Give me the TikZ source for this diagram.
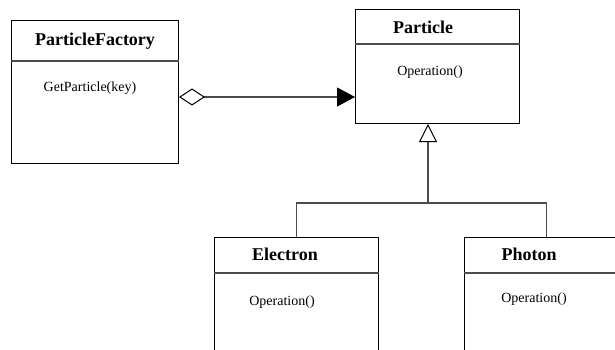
\documentclass[tikz,border=0pt]{standalone}
\usepackage{fontspec}
\setmainfont{Liberation Serif}
\usetikzlibrary{arrows.meta}

\begin{document}
\begin{tikzpicture}[x=1pt, y=-1pt,
classbox/.style={rectangle, draw=black, line width=1pt, inner sep=0pt, anchor=north west},
classtitle/.style={font=\fontsize{18}{20}\selectfont\bfseries, inner sep=0pt},
classop/.style={font=\fontsize{14}{16}\selectfont, inner sep=0pt},
divider/.style={draw=black!70, line width=1.1pt},
aggregation/.style={draw=black!70, line width=1.1pt, {Diamond[open, length=26pt, width=17pt, line width=1pt, black, fill=white]}-{Triangle[length=18pt, width=19pt, black]}},
generalization/.style={draw=black!70, line width=1.1pt, -{Triangle[open, length=18pt, width=18pt, line width=1pt, black, fill=white]}},
branch/.style={draw=black!70, line width=1.1pt}]

\path[use as bounding box, clip] (0,0) rectangle (615,350);

% class boxes
\node[classbox, minimum width=167pt, minimum height=143pt](factory) at (11, 20){};
\node[classbox, minimum width=164pt, minimum height=114pt](particle) at (355, 9){};
\node[classbox, minimum width=164pt, minimum height=130pt](electron) at (214, 237){};
\node[classbox, minimum width=164pt, minimum height=130pt](photon) at (464, 237){};

% compartments
\draw[divider] (factory.west |- 0, 61) -- (factory.east |- 0, 61);
\draw[divider] (particle.west |- 0, 44) -- (particle.east |- 0, 44);
\draw[divider] (electron.west |- 0, 273) -- (electron.east |- 0, 273);
\draw[divider] (photon.west |- 0, 273) -- (photon.east |- 0, 273);

% names and operations
\node[classtitle](factoryName) at (95, 41){ParticleFactory};
\node[classop](factoryOp) at (90, 88){GetParticle(key)};
\node[classtitle](particleName) at (423, 27){Particle};
\node[classop](particleOp) at (430, 72){Operation()};
\node[classtitle](electronName) at (285, 254){Electron};
\node[classop](electronOp) at (282, 302){Operation()};
\node[classtitle](photonName) at (529, 254){Photon};
\node[classop](photonOp) at (534, 299){Operation()};

% factory holds particles
\coordinate (aggLevel) at (0, 97);
\draw[aggregation] (factory.east |- aggLevel) -- (particle.west |- aggLevel);

% subclasses
\coordinate (fork) at (428, 203);
\draw[branch] (electron.north) |- (fork) -| (photon.north);
\draw[generalization] (fork) -- (fork |- particle.south);

\end{tikzpicture}
\end{document}
